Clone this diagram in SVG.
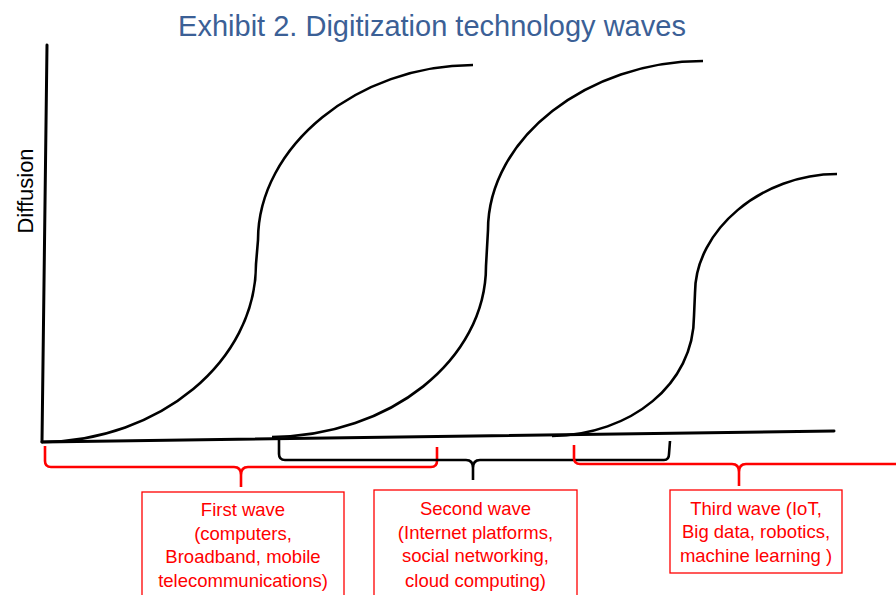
<svg xmlns="http://www.w3.org/2000/svg" width="896" height="595" viewBox="0 0 896 595">
<style>
.axis{fill:none;stroke:#000;stroke-width:3;stroke-linecap:round}
.curve{fill:none;stroke:#000;stroke-width:2.6}
.brk{fill:none;stroke-width:2.6;stroke-linejoin:round}
.red{stroke:#ff0000}
.blk{stroke:#000}
.box{fill:#fff;stroke:#ff0000;stroke-width:1.3}
.lbl{font-family:"Liberation Sans",Arial,sans-serif;font-size:18.5px;fill:#ff0000;text-anchor:middle}
.title{font-family:"Liberation Sans",Arial,sans-serif;font-size:29px;fill:#3b6096;text-anchor:middle}
.ylab{font-family:"Liberation Sans",Arial,sans-serif;font-size:22px;fill:#000;text-anchor:middle}
</style>
<rect width="896" height="595" fill="#fff"/>
<text class="title" x="432" y="36">Exhibit 2. Digitization technology waves</text>
<g id="axes">
<line class="axis" x1="47" y1="45" x2="42" y2="442"/>
<line class="axis" x1="42" y1="442" x2="834" y2="431"/>
<text class="ylab" transform="translate(33,191) rotate(-90)">Diffusion</text>
</g>
<g id="wave1-curve"><path class="curve" d="M42,442 C160,441 256,361 256,264 L258,240 C258,146 358,65 473,65"/></g>
<g id="wave2-curve"><path class="curve" d="M272,437 C390,436 486,360 486,266 L488,230 C488,138 588,61 703,61"/></g>
<g id="wave3-curve"><path class="curve" d="M552,436 C631,435 694,384 694,316 L695,293 C695,230 762,174 837,174"/></g>
<g id="connectors">
<path class="brk red" d="M45,446 L45,461 Q45,467 51,467 L234,467 Q241,467 241,475 L241,487 M241,475 Q241,467 248,467 L431,467 Q437,467 437,461 L437,447"/>
<path class="brk blk" d="M279,438 L279,454 Q279,460 285,460 L466,460 Q473,460 473,468 L473,480 M473,468 Q473,460 480,460 L664,460 Q669,460 669,454 L670,441"/>
<path class="brk red" d="M574,445 L574,458 Q574,464 580,464 L732,464 Q739,464 739,472 L739,486 M739,472 Q739,464 746,464 L896,464"/>
</g>
<g id="first-wave">
<rect class="box" x="142" y="492" width="202" height="120"/>
<text class="lbl" x="243" y="516">First wave</text>
<text class="lbl" x="243" y="540">(computers,</text>
<text class="lbl" x="243" y="563">Broadband, mobile</text>
<text class="lbl" x="243" y="587">telecommunications)</text>
</g>
<g id="second-wave">
<rect class="box" x="374" y="490" width="203" height="120"/>
<text class="lbl" x="475.5" y="515">Second wave</text>
<text class="lbl" x="475.5" y="539">(Internet platforms,</text>
<text class="lbl" x="475.5" y="562">social networking,</text>
<text class="lbl" x="475.5" y="587">cloud computing)</text>
</g>
<g id="third-wave">
<rect class="box" x="670" y="490" width="172" height="83"/>
<text class="lbl" x="756" y="515">Third wave (IoT,</text>
<text class="lbl" x="756" y="538">Big data, robotics,</text>
<text class="lbl" x="756" y="562">machine learning )</text>
</g>
</svg>
